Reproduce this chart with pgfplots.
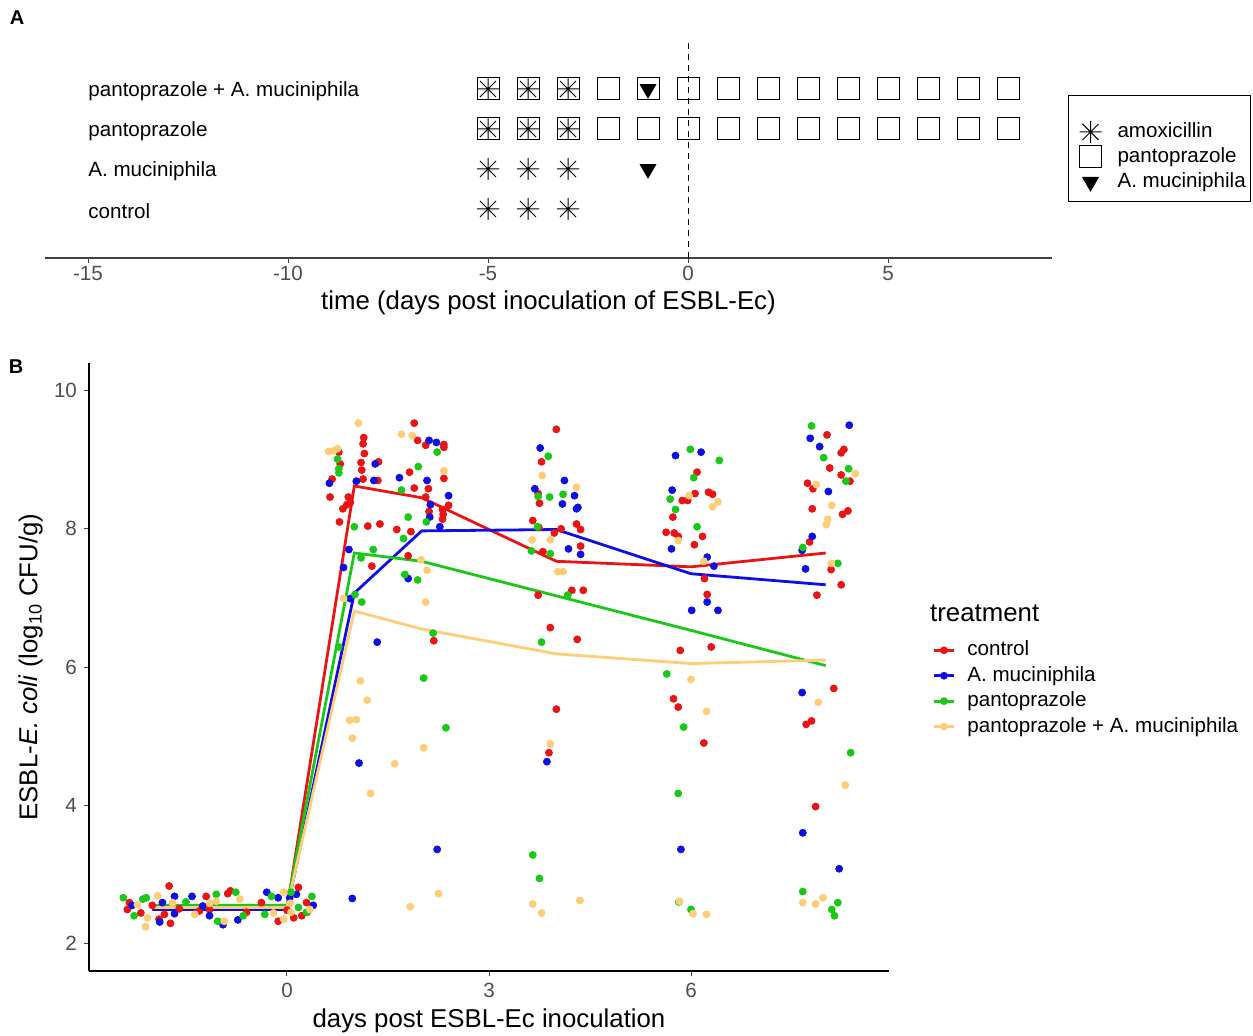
\documentclass[border=0pt]{standalone}
\usepackage{pgfplots}
\pgfplotsset{compat=1.18}
\usepackage{fontspec}
\setmainfont{Liberation Sans}
\definecolor{cred}{RGB}{235,20,20}
\definecolor{cblue}{RGB}{15,15,225}
\definecolor{cgreen}{RGB}{25,200,25}
\definecolor{cyel}{RGB}{253,205,120}
\definecolor{tickgrey}{RGB}{77,77,77}
\newcommand\fs{\fontsize{10.3}{12.4}\selectfont}
\newcommand\fl{\fontsize{12.9}{15.5}\selectfont}
\pgfdeclareplotmark{star8}{%
 \pgfpathmoveto{\pgfqpoint{-1.1\pgfplotmarksize}{0pt}}\pgfpathlineto{\pgfqpoint{1.1\pgfplotmarksize}{0pt}}%
 \pgfpathmoveto{\pgfqpoint{0pt}{-1.1\pgfplotmarksize}}\pgfpathlineto{\pgfqpoint{0pt}{1.1\pgfplotmarksize}}%
 \pgfpathmoveto{\pgfqpoint{-0.8\pgfplotmarksize}{-0.8\pgfplotmarksize}}\pgfpathlineto{\pgfqpoint{0.8\pgfplotmarksize}{0.8\pgfplotmarksize}}%
 \pgfpathmoveto{\pgfqpoint{-0.8\pgfplotmarksize}{0.8\pgfplotmarksize}}\pgfpathlineto{\pgfqpoint{0.8\pgfplotmarksize}{-0.8\pgfplotmarksize}}%
 \pgfusepathqstroke}
\begin{document}
\begin{tikzpicture}
\path[use as bounding box] (0pt,0pt) rectangle (626.5pt,-518pt);
\node[font=\bfseries\fontsize{10}{12}\selectfont] at (8.5pt,-9pt) {A};
\node[font=\bfseries\fontsize{10}{12}\selectfont] at (8pt,-183.5pt) {B};
% ---------------- Panel A ----------------
\begin{axis}[
 at={(22.5pt,-129pt)}, anchor=south west,
 scale only axis, width=503.5pt, height=109pt,
 xmin=-16.075, xmax=9.1, ymin=-0.225, ymax=5.225,
 axis x line*=bottom, axis y line=none,
 x axis line style={line width=0.9pt, black!75},
 xtick={-15,-10,-5,0,5}, xticklabels={-15,-10,-5,0,5},
 tick align=outside, major tick length=2.5pt,
 tick style={black!75, line width=0.5pt},
 xticklabel style={font=\fs, text=tickgrey, yshift=2pt},
 xlabel={time (days post inoculation of ESBL-Ec)},
 xlabel style={font=\fl, at={(axis description cs:0.5,-0.205)}, anchor=center},
 clip=false,
 legend cell align=left,
 legend image code/.code={\path[draw=none,fill=none] (-8.5pt,0pt) rectangle (5.5pt,0.1pt); \draw[#1] plot coordinates {(0pt,0pt)};},
 legend style={at={(1.0159,0.7477)}, anchor=north west, draw=black, line width=0.5pt,
   font=\fs, inner xsep=2.5pt, inner ysep=3.6pt, row sep=0pt, column sep=8pt,
   nodes={inner xsep=0pt, inner ysep=1.5pt, text depth=0.2em}},
]
\addplot[dashed, dash pattern=on 3pt off 2.5pt, black, line width=0.5pt, forget plot] coordinates {(0,-0.225) (0,5.225)};
\addplot[only marks, mark=square, mark size=5.5pt, black, line width=0.5pt, forget plot] coordinates {
 (-5,4)(-4,4)(-3,4)(-2,4)(-1,4)(0,4)(1,4)(2,4)(3,4)(4,4)(5,4)(6,4)(7,4)(8,4)
 (-5,3)(-4,3)(-3,3)(-2,3)(-1,3)(0,3)(1,3)(2,3)(3,3)(4,3)(5,3)(6,3)(7,3)(8,3)};
\addplot[only marks, mark=star8, mark size=5pt, black, line width=0.5pt, forget plot] coordinates {
 (-5,4)(-4,4)(-3,4)(-5,3)(-4,3)(-3,3)(-5,2)(-4,2)(-3,2)(-5,1)(-4,1)(-3,1)};
\addplot[only marks, mark=triangle*, mark size=4.5pt, mark options={rotate=180}, black, forget plot] coordinates {(-1,4)(-1,2)};
\node[anchor=west, inner sep=0pt, font=\fs, yshift=-1pt] at (axis cs:-15,4) {pantoprazole + A. muciniphila};
\node[anchor=west, inner sep=0pt, font=\fs, yshift=-1pt] at (axis cs:-15,3) {pantoprazole};
\node[anchor=west, inner sep=0pt, font=\fs, yshift=-1pt] at (axis cs:-15,2) {A. muciniphila};
\node[anchor=west, inner sep=0pt, font=\fs, yshift=-1pt] at (axis cs:-15,1) {control};
\addlegendimage{empty legend}\addlegendentry{\rule{0pt}{3.4pt}}
\addlegendimage{only marks, mark=star8, mark size=5pt, black, line width=0.5pt}\addlegendentry{amoxicillin}
\addlegendimage{only marks, mark=square, mark size=5.5pt, black, line width=0.5pt}\addlegendentry{pantoprazole}
\addlegendimage{only marks, mark=triangle*, mark size=4.5pt, mark options={rotate=180}, black}\addlegendentry{A. muciniphila}
\end{axis}
% ---------------- Panel B ----------------
\begin{axis}[
 at={(44.5pt,-485.5pt)}, anchor=south west,
 scale only axis, width=400pt, height=304pt,
 xmin=-2.94, xmax=8.94, ymin=1.6, ymax=10.4,
 axis x line*=bottom, axis y line*=left,
 axis line style={line width=0.75pt, black},
 xtick={0,3,6}, xticklabels={0,3,6},
 ytick={2,4,6,8,10}, yticklabels={2,4,6,8,10},
 tick align=outside, major tick length=2.5pt,
 tick style={black!75, line width=0.5pt},
 ticklabel style={font=\fs, text=tickgrey},
 xlabel={days post ESBL-Ec inoculation},
 xlabel style={font=\fl, at={(axis description cs:0.5,-0.082)}, anchor=center},
 ylabel={ESBL-\textit{E. coli} (log\textsubscript{10} CFU/g)},
 ylabel style={font=\fl, at={(axis description cs:-0.073,0.5)}, anchor=center},
 clip=false,
 legend cell align=left,
 legend image code/.code={\draw[#1, mark=*, mark size=1.2pt, mark repeat=2, mark phase=2] plot coordinates {(0pt,0pt)(5pt,0pt)(10pt,0pt)};},
 legend style={at={(1.054,0.549)}, anchor=north west, draw=none, fill=none,
   font=\fs, inner sep=0pt, row sep=0pt, column sep=4pt,
   nodes={inner xsep=2pt, inner ysep=1.6pt, text height=0.75em, text depth=0.2em}},
 scatter/.style={only marks, mark=*, mark size=1.75pt, forget plot},
]
% red (control)
\addplot[scatter, cred] coordinates {
 (-2.34,2.59)(-2.37,2.49)(-2.17,2.44)(-1.75,2.83)(-1.73,2.29)(-1.82,2.42)(-2.0,2.55)(-1.6,2.5)(-1.9,2.35)
 (-1.20,2.68)(-1.15,2.49)(-0.88,2.72)(-0.84,2.76)(-1.30,2.47)(-0.6,2.45)
 (-0.38,2.59)(-0.13,2.32)(0.17,2.81)(0.10,2.37)(0.22,2.40)(0.29,2.59)(0.0,2.48)(0.3,2.45)
 (1.89,9.53)(1.94,9.28)(2.33,9.22)(2.33,9.18)(2.06,9.21)(1.14,9.32)(1.13,9.23)(0.77,9.11)(1.15,9.09)
 (0.79,8.94)(1.10,8.96)(1.36,8.97)(1.11,8.85)(1.82,8.82)(0.67,8.72)(1.13,8.72)(1.35,8.70)(2.33,8.73)
 (1.89,8.59)(2.10,8.58)(2.06,8.46)(0.64,8.46)(0.91,8.46)(0.94,8.38)(2.40,8.34)(0.83,8.29)(0.89,8.35)
 (2.11,8.25)(2.31,8.28)(2.32,8.21)(2.31,8.14)(0.78,8.10)(1.20,8.04)(1.38,8.07)(1.63,7.99)(1.84,7.96)
 (1.80,7.61)(1.26,7.46)(2.18,6.38)
 (4.0,9.44)(3.78,8.97)(3.73,8.51)(3.75,8.37)(3.65,8.12)(3.74,8.02)(4.30,8.07)(4.36,7.99)(4.07,8.0)
 (3.97,7.94)(4.36,7.75)(3.80,7.67)(4.23,7.11)(4.40,7.11)(3.73,7.04)(3.91,6.57)(4.31,6.40)(4.0,5.39)(3.89,4.76)
 (6.09,8.82)(6.06,8.51)(6.26,8.53)(6.32,8.50)(5.87,8.41)(5.95,8.41)(5.73,8.17)(5.63,7.95)(5.75,7.94)
 (5.81,7.89)(6.17,7.89)(6.05,7.77)(6.20,7.28)(6.24,7.05)(5.84,6.24)(6.30,6.29)(5.74,5.54)(5.81,5.42)(6.19,4.90)
 (8.02,9.36)(8.27,9.15)(8.23,9.10)(8.06,8.88)(8.23,8.78)(8.36,8.69)(7.73,8.66)(7.81,8.58)(7.80,8.29)
 (8.25,8.21)(8.33,8.26)(7.76,7.81)(8.08,7.41)(8.23,7.19)(7.87,7.04)(8.12,5.69)(7.71,5.17)(7.79,5.22)(7.85,3.98)};
% blue (A. muciniphila)
\addplot[scatter, cblue] coordinates {
 (-2.3,2.55)(-1.67,2.68)(-1.85,2.59)(-1.89,2.31)(-1.67,2.43)(-1.41,2.68)(-1.15,2.40)(-0.95,2.27)
 (-0.73,2.34)(-1.25,2.54)(-0.30,2.74)(-0.13,2.66)(0.14,2.71)(0.39,2.55)(0.04,2.66)
 (2.11,9.28)(2.22,9.25)(1.31,8.94)(0.63,8.66)(1.03,8.69)(1.29,8.70)(1.67,8.74)(2.08,8.70)(2.40,8.48)
 (2.13,8.35)(2.12,8.17)(2.27,8.03)(0.92,7.70)(0.84,7.44)(1.80,7.28)(0.94,6.99)(1.34,6.36)(1.07,4.61)
 (2.23,3.36)(0.97,2.65)
 (3.76,9.17)(4.12,8.70)(3.68,8.58)(4.27,8.48)(4.09,8.36)(4.30,8.29)(4.32,8.31)(4.18,7.71)(4.36,7.63)(3.86,4.63)
 (5.77,9.06)(6.15,9.11)(5.72,8.56)(5.71,7.71)(6.24,7.59)(6.34,7.46)(6.24,6.94)(6.01,6.82)(6.40,6.82)(5.85,3.36)
 (8.35,9.50)(7.77,9.31)(7.91,9.19)(8.04,8.54)(7.80,7.89)(7.65,7.69)(7.70,7.42)(7.65,5.63)(7.66,3.60)(8.20,3.08)};
% green (pantoprazole)
\addplot[scatter, cgreen] coordinates {
 (-2.43,2.66)(-2.27,2.40)(-2.14,2.64)(-2.09,2.66)(-1.5,2.6)(-1.05,2.71)(-1.03,2.32)(-0.76,2.74)
 (-0.65,2.40)(-0.23,2.68)(-0.33,2.42)(0.37,2.68)(0.17,2.52)(0.29,2.45)(0.06,2.74)
 (2.23,9.11)(0.75,9.01)(1.95,8.90)(0.77,8.87)(0.77,8.81)(1.70,8.56)(1.80,8.17)(2.07,8.10)(1.0,8.03)
 (1.73,7.86)(1.28,7.70)(1.10,7.58)(1.75,7.34)(1.94,7.26)(1.01,7.05)(1.11,6.94)(2.17,6.49)(0.77,6.29)
 (2.03,5.84)(2.36,5.12)
 (3.88,9.05)(3.73,8.47)(3.90,8.46)(4.10,8.50)(3.72,8.03)(3.63,7.68)(3.91,7.64)(4.17,7.04)(3.78,6.36)
 (3.65,3.28)(3.75,2.94)
 (5.99,9.15)(6.42,8.99)(6.04,8.74)(5.69,8.43)(5.77,8.28)(6.09,8.03)(5.64,5.90)(5.89,5.13)(5.81,4.17)
 (5.82,2.60)(6.0,2.49)
 (7.79,9.49)(7.97,9.03)(8.34,8.87)(8.30,8.69)(7.66,7.73)(8.18,7.50)(8.37,4.76)(7.66,2.75)(8.18,2.59)
 (8.09,2.49)(8.13,2.40)};
% yellow (pantoprazole + A. muciniphila)
\addplot[scatter, cyel] coordinates {
 (-2.22,2.56)(-2.07,2.37)(-2.10,2.24)(-1.92,2.69)(-1.70,2.59)(-1.37,2.42)(-0.93,2.32)(-0.70,2.64)
 (-1.05,2.61)(-1.15,2.58)(-0.05,2.74)(-0.20,2.44)(-0.05,2.35)(0.05,2.58)(0.34,2.49)(0.06,2.45)
 (1.06,9.53)(1.70,9.37)(1.86,9.35)(0.62,9.12)(0.69,9.13)(0.75,9.16)(2.33,8.84)(1.99,7.55)(2.08,7.40)
 (0.84,6.99)(2.06,6.94)(1.09,5.80)(1.19,5.52)(0.93,5.23)(1.03,5.24)(0.97,4.97)(2.03,4.83)(1.60,4.60)
 (1.24,4.17)(2.25,2.72)(1.83,2.53)
 (3.79,8.77)(4.30,8.60)(3.64,7.84)(3.91,7.84)(4.02,7.38)(4.10,7.38)(3.91,4.89)(3.65,2.57)(4.35,2.62)(3.78,2.44)
 (5.97,8.48)(6.32,8.32)(6.40,8.39)(5.81,7.83)(6.19,7.53)(6.0,5.82)(6.23,5.36)(5.83,2.61)(6.03,2.43)(6.23,2.42)
 (8.44,8.80)(7.86,8.64)(8.09,8.34)(8.03,8.14)(8.01,8.06)(8.08,7.50)(7.89,5.49)(8.29,4.29)(7.66,2.59)
 (7.85,2.57)(7.96,2.66)};
% mean lines
\addplot[cred, line width=1.4pt] coordinates {(-2,2.50)(-1,2.50)(0,2.50)(1,8.62)(2,8.45)(4,7.53)(6,7.45)(8,7.65)};
\addlegendentry{control}
\addplot[cblue, line width=1.4pt] coordinates {(-2,2.49)(-1,2.49)(0,2.49)(1,7.07)(2,7.97)(4,7.99)(6,7.35)(8,7.19)};
\addlegendentry{A. muciniphila}
\addplot[cgreen, line width=1.4pt] coordinates {(-2,2.55)(-1,2.55)(0,2.55)(1,7.65)(2,7.53)(4,7.03)(6,6.53)(8,6.02)};
\addlegendentry{pantoprazole}
\addplot[cyel, line width=1.4pt] coordinates {(-2,2.52)(-1,2.52)(0,2.52)(1,6.81)(2,6.55)(4,6.19)(6,6.05)(8,6.10)};
\addlegendentry{pantoprazole + A. muciniphila}
\node[anchor=west, inner sep=0pt, font=\fl] at (axis description cs:1.051,0.589) {treatment};
\end{axis}
\end{tikzpicture}
\end{document}
